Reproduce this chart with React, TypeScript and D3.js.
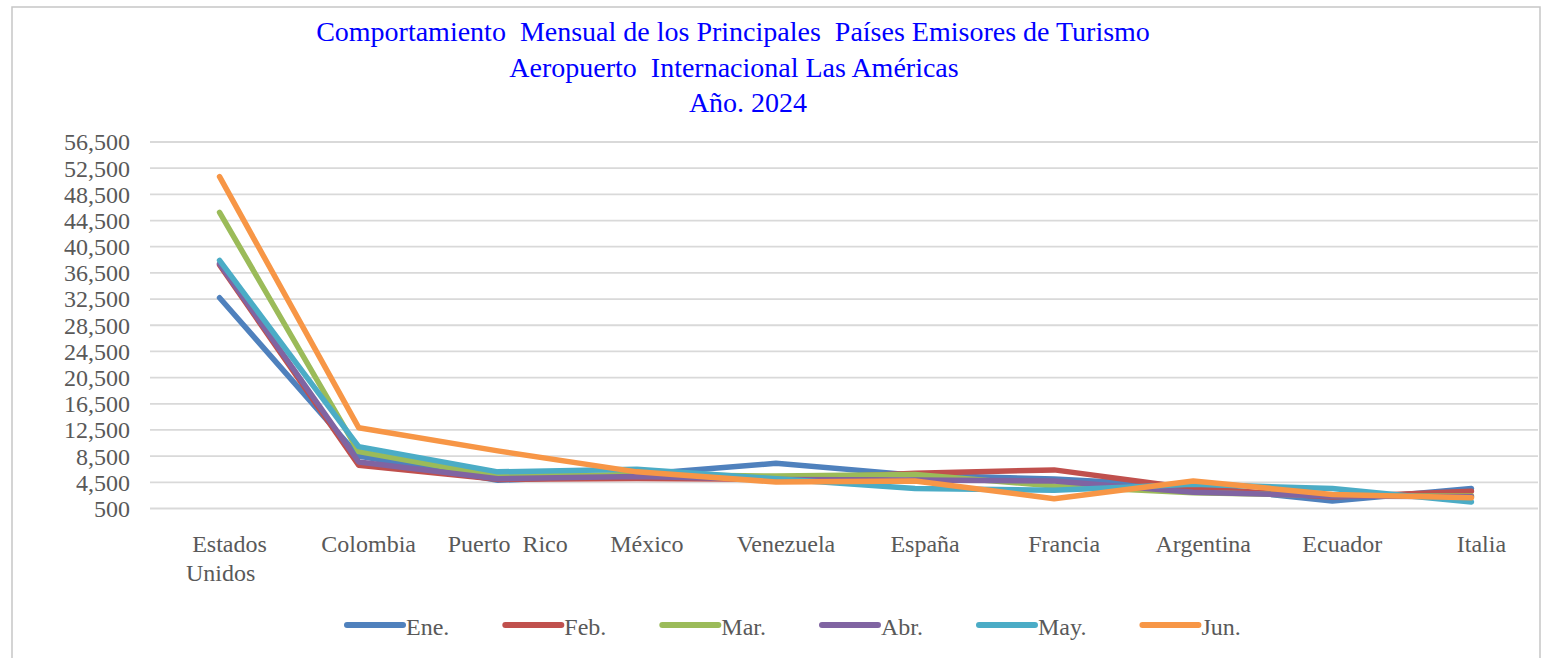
import React, { useEffect, useRef } from "react";
import * as d3 from "d3";

const categories = ["Estados Unidos", "Colombia", "Puerto  Rico", "México", "Venezuela", "España", "Francia", "Argentina", "Ecuador", "Italia"];
const seriesNames = ["Ene.", "Feb.", "Mar.", "Abr.", "May.", "Jun."];
const ene = [32700, 8500, 4800, 5700, 7400, 5600, 5000, 3900, 1650, 3550];
const feb = [37700, 7100, 4950, 5100, 4950, 5900, 6400, 3550, 2250, 3150];
const mar = [45750, 9200, 5400, 5700, 5450, 5700, 3950, 2900, 2500, 2400];
const abr = [37900, 7600, 5050, 5400, 4950, 4850, 4700, 3000, 2400, 2300];
const may = [38400, 9950, 6100, 6500, 5050, 3550, 3300, 4200, 3550, 1500];
const jun = [51200, 12850, 9300, 6100, 4550, 4700, 2000, 4700, 2650, 2150];
const yTicks = [500, 4500, 8500, 12500, 16500, 20500, 24500, 28500, 32500, 36500, 40500, 44500, 48500, 52500, 56500];
const titleLines = ["Comportamiento  Mensual de los Principales  Países Emisores de Turismo", "Aeropuerto  Internacional Las Américas", "Año. 2024"];
const colors = ["#4F81BD", "#C0504D", "#9BBB59", "#8064A2", "#4BACC6", "#F79646"];

const W = 1544, H = 658;
const FONT = "'Liberation Serif', 'Times New Roman', serif";

export default function App() {
  const ref = useRef<SVGSVGElement>(null);
  useEffect(() => {
    const svg = d3.select(ref.current);
    svg.selectAll("*").remove();
    const series = [ene, feb, mar, abr, may, jun];

    svg.append("rect").attr("x", 12).attr("y", 7).attr("width", 1528).attr("height", 670)
      .attr("fill", "#fff").attr("stroke", "#C6C6C6").attr("stroke-width", 1.5);

    // title
    const titleY = [41, 77, 112];
    const titleX = [733, 734, 748];
    titleLines.forEach((t, i) => {
      svg.append("text").attr("x", titleX[i]).attr("y", titleY[i]).attr("text-anchor", "middle")
        .style("white-space", "pre").attr("font-family", FONT).attr("font-size", 28).attr("fill", "#0000FF").text(t);
    });

    const x = d3.scaleBand<string>().domain(categories).range([150, 1541]).padding(0);
    const y = d3.scaleLinear().domain([500, 56500]).range([508.5, 142]);
    const cx = (c: string) => (x(c) as number) + x.bandwidth() / 2;

    // grid
    svg.append("g").selectAll("line").data(yTicks).join("line")
      .attr("x1", 150).attr("x2", 1538).attr("y1", d => y(d)).attr("y2", d => y(d))
      .attr("stroke", "#D9D9D9").attr("stroke-width", 1.8);

    // y labels
    svg.append("g").selectAll("text").data(yTicks).join("text")
      .attr("x", 130).attr("y", d => y(d)).attr("dy", "0.35em").attr("text-anchor", "end")
      .attr("font-family", FONT).attr("font-size", 24).attr("fill", "#595959")
      .text(d => d3.format(",")(d));

    // x labels
    const xl = svg.append("g");
    categories.forEach((c) => {
      const parts = c === "Estados Unidos" ? ["Estados", "Unidos"] : [c];
      const t = xl.append("text").attr("x", cx(c) + 10).attr("y", 552).attr("text-anchor", "middle")
        .style("white-space", "pre").attr("font-family", FONT).attr("font-size", 24).attr("fill", "#595959");
      parts.forEach((p, i) => {
        t.append("tspan").attr("x", cx(c) + (i === 0 ? 10 : 1)).attr("dy", i === 0 ? 0 : 29).text(p);
      });
    });

    // lines
    const line = d3.line<number>().x((_, i) => cx(categories[i])).y(d => y(d));
    series.forEach((s, i) => {
      svg.append("path").attr("d", line(s) as string).attr("fill", "none")
        .attr("stroke", colors[i]).attr("stroke-width", 5.5)
        .attr("stroke-linejoin", "round").attr("stroke-linecap", "round");
    });

    // legend
    const lg = svg.append("g");
    let lx = 347;
    const ly = 625;
    seriesNames.forEach((n, i) => {
      lg.append("line").attr("x1", lx).attr("x2", lx + 56).attr("y1", ly).attr("y2", ly)
        .attr("stroke", colors[i]).attr("stroke-width", 6).attr("stroke-linecap", "round");
      const t = lg.append("text").attr("x", lx + 59).attr("y", ly + 2).attr("dy", "0.35em")
        .attr("font-family", FONT).attr("font-size", 24).attr("fill", "#595959").text(n);
      const tw = (t.node() as SVGTextElement).getComputedTextLength();
      lx = lx + 59 + tw + 56;
    });
  }, []);
  return (
    <div style={{ position: "absolute", left: 0, top: 0 }}>
      <svg ref={ref} width={W} height={H} style={{ display: "block", background: "#fff" }} />
    </div>
  );
}
